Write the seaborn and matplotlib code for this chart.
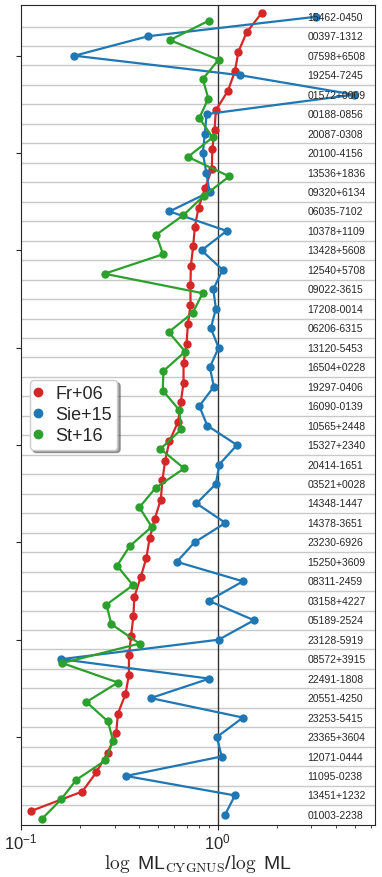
import numpy as np
import pandas as pd
import seaborn as sns
import matplotlib
matplotlib.use("Agg")
from matplotlib import pyplot as plt
from matplotlib.lines import Line2D
from matplotlib.ticker import NullFormatter

# galaxy names, top to bottom
names = ["15462-0450", "00397-1312", "07598+6508", "19254-7245", "01572+0009",
         "00188-0856", "20087-0308", "20100-4156", "13536+1836", "09320+6134",
         "06035-7102", "10378+1109", "13428+5608", "12540+5708", "09022-3615",
         "17208-0014", "06206-6315", "13120-5453", "16504+0228", "19297-0406",
         "16090-0139", "10565+2448", "15327+2340", "20414-1651", "03521+0028",
         "14348-1447", "14378-3651", "23230-6926", "15250+3609", "08311-2459",
         "03158+4227", "05189-2524", "23128-5919", "08572+3915", "22491-1808",
         "20551-4250", "23253-5415", "23365+3604", "12071-0444", "11095-0238",
         "13451+1232", "01003-2238"]

# ratio log ML_CYGNUS / log ML for each reference
fr06 = [1.677, 1.406, 1.275, 1.225, 1.129, 0.980, 0.965, 0.940, 0.935, 0.865,
        0.800, 0.766, 0.751, 0.731, 0.728, 0.728, 0.706, 0.695, 0.671, 0.671,
        0.650, 0.630, 0.569, 0.541, 0.524, 0.514, 0.479, 0.451, 0.434, 0.406,
        0.377, 0.373, 0.363, 0.354, 0.354, 0.340, 0.311, 0.305, 0.276, 0.242,
        0.205, 0.1125]
sie15 = [3.16, 0.443, 0.187, 1.30, 4.96, 0.879, 0.861, 0.841, 0.876, 0.910,
         0.569, 1.112, 0.829, 1.060, 0.951, 0.980, 0.924, 1.012, 0.913, 0.957,
         0.807, 0.886, 1.254, 1.020, 0.980, 0.781, 1.095, 0.763, 0.620, 1.346,
         0.900, 1.532, 1.012, 0.160, 0.907, 0.457, 1.346, 0.992, 1.048, 0.342,
         1.225, 1.090]
st16 = [0.903, 0.571, 1.012, 0.841, 0.897, 0.807, 0.943, 0.706, 1.147, 0.851,
        0.668, 0.487, 0.528, 0.266, 0.839, 0.748, 0.564, 0.684, 0.530, 0.526,
        0.638, 0.653, 0.512, 0.676, 0.484, 0.400, 0.462, 0.357, 0.308, 0.371,
        0.272, 0.288, 0.401, 0.162, 0.311, 0.215, 0.277, 0.294, 0.269, 0.191,
        0.160, 0.128]

series = ["Fr+06", "Sie+15", "St+16"]
colors = ["#d62728", "#1f77b4", "#2ca02c"]

sns.set_style("ticks")
plt.rcParams["font.family"] = ["Liberation Sans", "DejaVu Sans"]
plt.rcParams["mathtext.fontset"] = "cm"

df = pd.DataFrame({
    "name": names * 3,
    "ratio": fr06 + sie15 + st16,
    "ref": [s for s in series for _ in names],
})

fig = plt.figure(figsize=(3.82, 8.78), dpi=100)
ax = fig.add_axes([0.055, 0.0592, 0.926, 0.9343])

sns.pointplot(data=df, x="ratio", y="name", hue="ref", order=names,
              hue_order=series, palette=colors, dodge=0.4, errorbar=None,
              markersize=4.8, linewidth=1.6, legend=False, ax=ax, zorder=3)

# row separators and reference line
for i in range(len(names) - 1):
    ax.axhline(i + 0.5, color="#c8c8c8", lw=1, zorder=0)
ax.axvline(1.0, color="#333333", lw=1, zorder=1)

ax.set_xscale("log")
ax.set_xlim(0.1, 6.3)
ax.set_ylim(41.52, -0.62)
ax.xaxis.set_minor_formatter(NullFormatter())
ax.tick_params(axis="x", which="major", labelsize=12, pad=1.5)

ax.set_yticks(np.arange(2, 41, 5))
ax.set_yticklabels([])
ax.set_ylabel("")

# names inside the plot on the right
for i, n in enumerate(names):
    ax.text(0.81, i, n, transform=ax.get_yaxis_transform(), va="center",
            ha="left", fontsize=7.5, zorder=4)

ax.set_xlabel(r"$\log$ ML$_{\mathrm{CYGNUS}}$/$\log$ ML", fontsize=14, labelpad=0)

handles = [Line2D([], [], marker="o", ls="none", color=c, markersize=6) for c in colors]
ax.legend(handles, series, loc="center left", fontsize=13, shadow=True,
          fancybox=True, handletextpad=0.8, borderpad=0.3, labelspacing=0.22,
          handlelength=0.3, borderaxespad=0.5, framealpha=1)

fig.savefig("out.png", dpi=100)
